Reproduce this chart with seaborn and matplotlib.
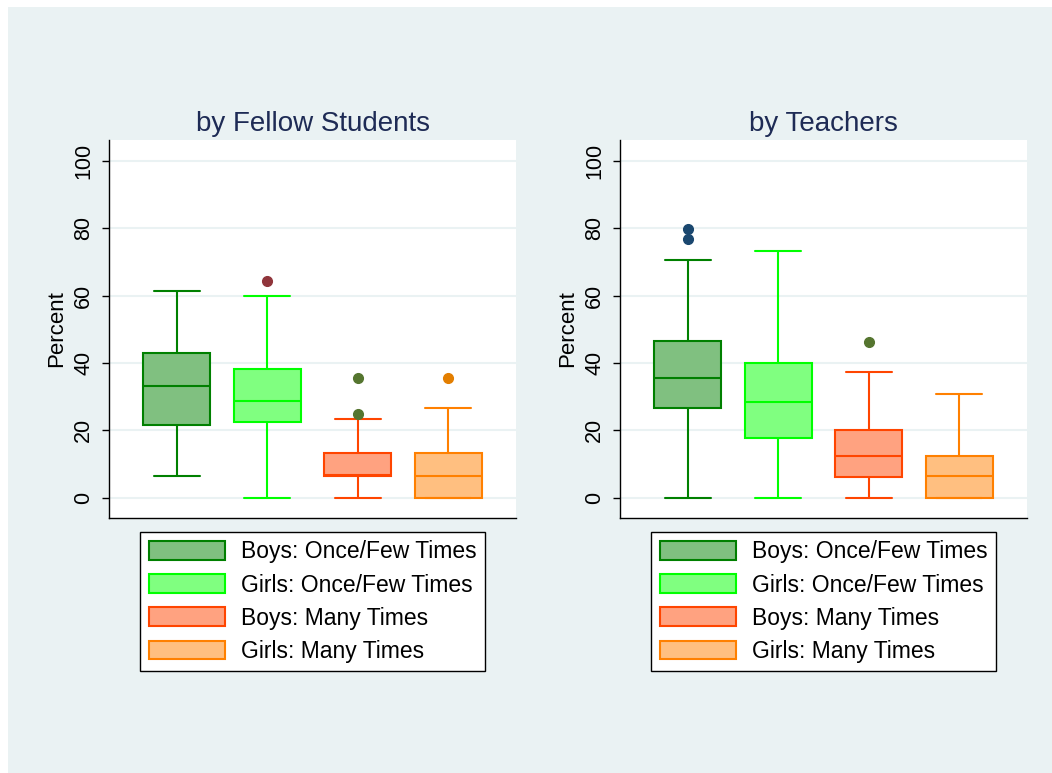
import matplotlib
matplotlib.use("Agg")
import matplotlib.pyplot as plt
from matplotlib.patches import Patch, Rectangle
import pandas as pd
import seaborn as sns

groups = ["Boys: Once/Few Times", "Girls: Once/Few Times",
          "Boys: Many Times", "Girls: Many Times"]

# box summaries: [whisker low, q1, median, q3, whisker high]
fellow_stats = [
    [6.5, 21.6, 33.2, 42.9, 61.5],
    [0.0, 22.4, 28.8, 38.2, 60.0],
    [0.0, 6.5, 6.9, 13.3, 23.4],
    [0.0, 0.0, 6.5, 13.3, 26.6],
]
fellow_outliers = [[], [64.3], [25.0, 35.7], [35.7]]

teacher_stats = [
    [0.0, 26.7, 35.6, 46.6, 70.6],
    [0.0, 17.6, 28.4, 40.0, 73.3],
    [0.0, 6.25, 12.4, 20.0, 37.4],
    [0.0, 0.0, 6.5, 12.5, 30.8],
]
teacher_outliers = [[76.9, 79.9], [], [46.1], []]

panel_titles = ["by Fellow Students", "by Teachers"]
yticks = [0, 20, 40, 60, 80, 100]

fills = ["#80C080", "#80FF80", "#FFA280", "#FFBF80"]
edges = ["#008000", "#00FF00", "#FF4500", "#FF8000"]
dot_colors = ["#1A476F", "#90353B", "#55752F", "#E37E00"]
bg = "#EAF2F3"


def to_frame(stats, outliers):
    # repeat each summary so numpy's quartiles land exactly on the read values
    rows = []
    for g, s, out in zip(groups, stats, outliers):
        lo, q1, med, q3, hi = s
        vals = [lo, q1, q1, med, q3, q3, hi] * 10 + out
        rows += [(g, v) for v in vals]
    return pd.DataFrame(rows, columns=["group", "value"])


sns.set_style("white")
plt.rcParams["font.family"] = ["Liberation Sans", "DejaVu Sans"]
plt.rcParams["text.color"] = "black"
plt.rcParams["axes.labelcolor"] = "black"
plt.rcParams["ytick.color"] = "black"

fig = plt.figure(figsize=(10.52, 7.73), dpi=100, facecolor="white")
fig.patches.append(Rectangle((8 / 1052, 0), 1, 766 / 773, transform=fig.transFigure,
                             facecolor=bg, edgecolor="none", zorder=-10))

W, H = 1052, 773
panels = [(fellow_stats, fellow_outliers, 109.3), (teacher_stats, teacher_outliers, 620.3)]

for k, (stats, outliers, x0) in enumerate(panels):
    ax = fig.add_axes([x0 / W, (H - 518) / H, 407 / W, 378 / H])
    ax.set_facecolor("white")
    df = to_frame(stats, outliers)
    for i, g in enumerate(groups):
        sns.boxplot(data=df[df["group"] == g], x="group", y="value", order=groups,
                    color=fills[i], linecolor=edges[i], linewidth=1.5,
                    width=0.74, saturation=1, whis=1.5, capwidths=0.505,
                    flierprops=dict(marker="o", markerfacecolor=dot_colors[i],
                                    markeredgecolor=dot_colors[i], markersize=7),
                    ax=ax)
    ax.set_xlim(-0.745, 3.753)
    ax.set_ylim(-6.0, 106.2)
    ax.set_xticks([])
    ax.set_xlabel("")
    ax.set_yticks(yticks)
    ax.set_yticklabels([str(t) for t in yticks])
    ax.tick_params(axis="y", length=5, width=1, labelsize=15.5, pad=6,
                   labelrotation=90, left=True, color="black", labelcolor="black")
    for lab in ax.get_yticklabels():
        lab.set_va("center")
    ax.set_ylabel("Percent", fontsize=16, labelpad=4, color="black")
    ax.yaxis.grid(True, color=bg, linewidth=1.5)
    ax.set_axisbelow(True)
    for side in ["top", "right"]:
        ax.spines[side].set_visible(False)
    for side in ["left", "bottom"]:
        ax.spines[side].set_color("black")
        ax.spines[side].set_linewidth(1.0)
    ax.set_title(panel_titles[k], fontsize=20, color="#1E2B55", pad=6.5)

    handles = [Patch(facecolor=fills[i], edgecolor=edges[i], linewidth=1.5, label=g)
               for i, g in enumerate(groups)]
    leg = ax.legend(handles=handles, loc="upper center", bbox_to_anchor=(0.5, -0.037),
                    fontsize=16.5, frameon=True, fancybox=False, edgecolor="black",
                    framealpha=1, borderaxespad=0, handlelength=3.35, handleheight=0.87,
                    handletextpad=0.7, labelspacing=0.44, borderpad=0.37,
                    labelcolor="black")
    leg.get_frame().set_linewidth(1.0)

plt.savefig("out.png", dpi=100, facecolor=fig.get_facecolor())
